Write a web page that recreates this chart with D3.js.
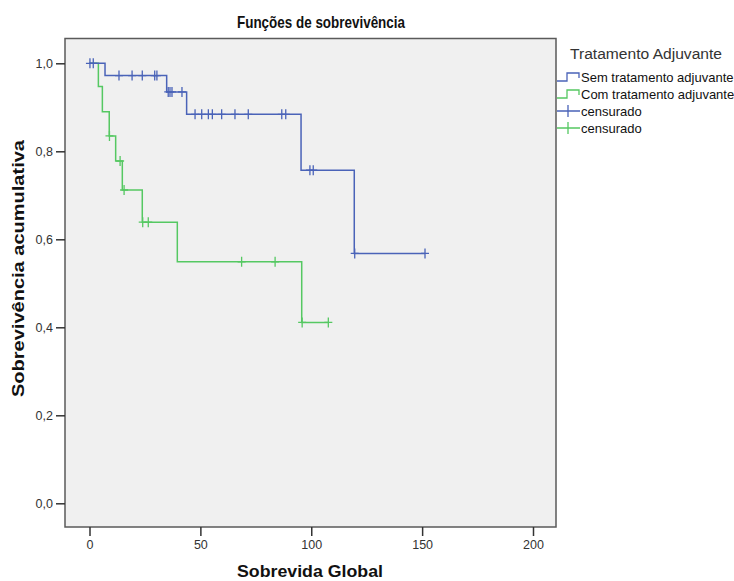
<!DOCTYPE html>
<html>
<head>
<meta charset="utf-8">
<script src="https://cdn.jsdelivr.net/npm/d3@7"></script>
<style>
  body { margin: 0; background: #fff; }
  text { font-family: "Liberation Sans", Arial, sans-serif; }
</style>
</head>
<body>
<div id="chart"></div>
<script>
'use strict';

const w = 734;
const h = 581;

// step curves: [time, survival after the event]
const semSteps = [[0, 1], [7, 0.972], [34.8, 0.935], [43.8, 0.884], [95.4, 0.757], [119.4, 0.568]];
const semEnd = 151.3;
const semCensored = [[0.2, 1], [1.7, 1],
  [13.3, 0.972], [19.2, 0.972], [23.8, 0.972], [29.4, 0.972], [30.4, 0.972],
  [35.5, 0.935], [36.3, 0.935], [37.2, 0.935], [41.7, 0.935],
  [47.6, 0.884], [50.6, 0.884], [53.6, 0.884], [55.4, 0.884], [59.6, 0.884], [65.6, 0.884], [71.6, 0.884], [86.7, 0.884], [88.5, 0.884],
  [99.4, 0.757], [100.9, 0.757],
  [119.6, 0.568], [151.3, 0.568]];

const comSteps = [[0, 1], [4, 0.947], [5.8, 0.89], [8.9, 0.835], [11.8, 0.778], [14.8, 0.712], [23.8, 0.639], [39.6, 0.549], [95.7, 0.411]];
const comEnd = 107.7;
const comCensored = [[9, 0.835], [13.8, 0.778], [15.6, 0.712], [24, 0.639], [26.5, 0.639],
  [68.6, 0.549], [83.7, 0.549], [95.9, 0.411], [107.7, 0.411]];

const xTicks = [0, 50, 100, 150, 200];
const yTicks = [0, 0.2, 0.4, 0.6, 0.8, 1.0];
const legendLabels = ["Sem tratamento adjuvante", "Com tratamento adjuvante", "censurado", "censurado"];

const blue = "#4a63b8";
const green = "#55c862";

const svg = d3.select("#chart").append("svg")
  .attr("width", w)
  .attr("height", h);

const frame = {left: 65, right: 556, top: 38.5, bottom: 527};

const x = d3.scaleLinear().domain([0, 200]).range([89.5, 533]);
const y = d3.scaleLinear().domain([0, 1]).range([503.3, 63.3]);

//plot background
svg.append("rect")
  .attr("x", frame.left).attr("y", frame.top)
  .attr("width", frame.right - frame.left)
  .attr("height", frame.bottom - frame.top)
  .attr("fill", "#f0f0f0")
  .attr("stroke", "#5a5a5a")
  .attr("stroke-width", 1.5);

//axes
const xAxis = d3.axisBottom(x).tickValues(xTicks).tickSize(9).tickPadding(4).tickFormat(d3.format("d"));
const yAxis = d3.axisLeft(y).tickValues(yTicks).tickSize(9).tickPadding(3).tickFormat(d => d3.format(".1f")(d).replace(".", ","));

const gx = svg.append("g").attr("transform", `translate(0,${frame.bottom})`).call(xAxis);
const gy = svg.append("g").attr("transform", `translate(${frame.left},0)`).call(yAxis);

[gx, gy].forEach(g => {
  g.select(".domain").remove();
  g.selectAll(".tick line").attr("stroke", "#333").attr("stroke-width", 1.5);
  g.selectAll(".tick text").attr("fill", "#333").attr("font-size", 12.5);
});

//step lines
function stepLine(steps, end) {
  const pts = steps.map(d => [d[0], d[1]]);
  pts.push([end, steps[steps.length - 1][1]]);
  return d3.line().x(d => x(d[0])).y(d => y(d[1])).curve(d3.curveStepAfter)(pts);
}

svg.append("path").attr("d", stepLine(comSteps, comEnd))
  .attr("fill", "none").attr("stroke", green).attr("stroke-width", 1.5);
svg.append("path").attr("d", stepLine(semSteps, semEnd))
  .attr("fill", "none").attr("stroke", blue).attr("stroke-width", 1.5);

//censor marks
function crosses(data, color) {
  svg.append("g").selectAll("path")
    .data(data).enter().append("path")
    .attr("d", d => `M${x(d[0]) - 4},${y(d[1])}h8M${x(d[0])},${y(d[1]) - 5}v10`)
    .attr("stroke", color).attr("stroke-width", 1.3).attr("fill", "none");
}
crosses(comCensored, green);
crosses(semCensored, blue);

//titles (condensed to match the narrow lettering)
svg.append("text").attr("x", 321).attr("y", 28).attr("text-anchor", "middle")
  .attr("font-size", 17).attr("font-weight", "bold").attr("fill", "#111")
  .attr("textLength", 168).attr("lengthAdjust", "spacingAndGlyphs")
  .text("Funções de sobrevivência");

svg.append("text").attr("x", 310).attr("y", 577).attr("text-anchor", "middle")
  .attr("font-size", 17).attr("font-weight", "bold").attr("fill", "#111")
  .attr("textLength", 146).attr("lengthAdjust", "spacingAndGlyphs")
  .text("Sobrevida Global");

svg.append("text").attr("transform", "translate(24,268.5) rotate(-90)").attr("text-anchor", "middle")
  .attr("font-size", 17).attr("font-weight", "bold").attr("fill", "#111")
  .attr("textLength", 257).attr("lengthAdjust", "spacingAndGlyphs")
  .text("Sobrevivência acumulativa");

//legend
const legend = svg.append("g");
legend.append("text").attr("x", 570).attr("y", 59)
  .attr("font-size", 15.5).attr("fill", "#333")
  .attr("textLength", 152).attr("lengthAdjust", "spacingAndGlyphs")
  .text("Tratamento Adjuvante");

const legendColors = [blue, green, blue, green];
const item = legend.selectAll("g.item").data(legendLabels).enter().append("g")
  .attr("class", "item")
  .attr("transform", (d, i) => `translate(557,${77 + 17 * i})`);

item.append("path")
  .attr("d", (d, i) => i < 2 ? "M0,4H10V-4H22V1" : "M0,0H23M11,-6V6")
  .attr("stroke", (d, i) => legendColors[i]).attr("stroke-width", 1.3).attr("fill", "none");

item.append("text").attr("x", 24).attr("y", 4.5)
  .attr("font-size", 13).attr("fill", "#111")
  .text(d => d);
</script>
</body>
</html>
